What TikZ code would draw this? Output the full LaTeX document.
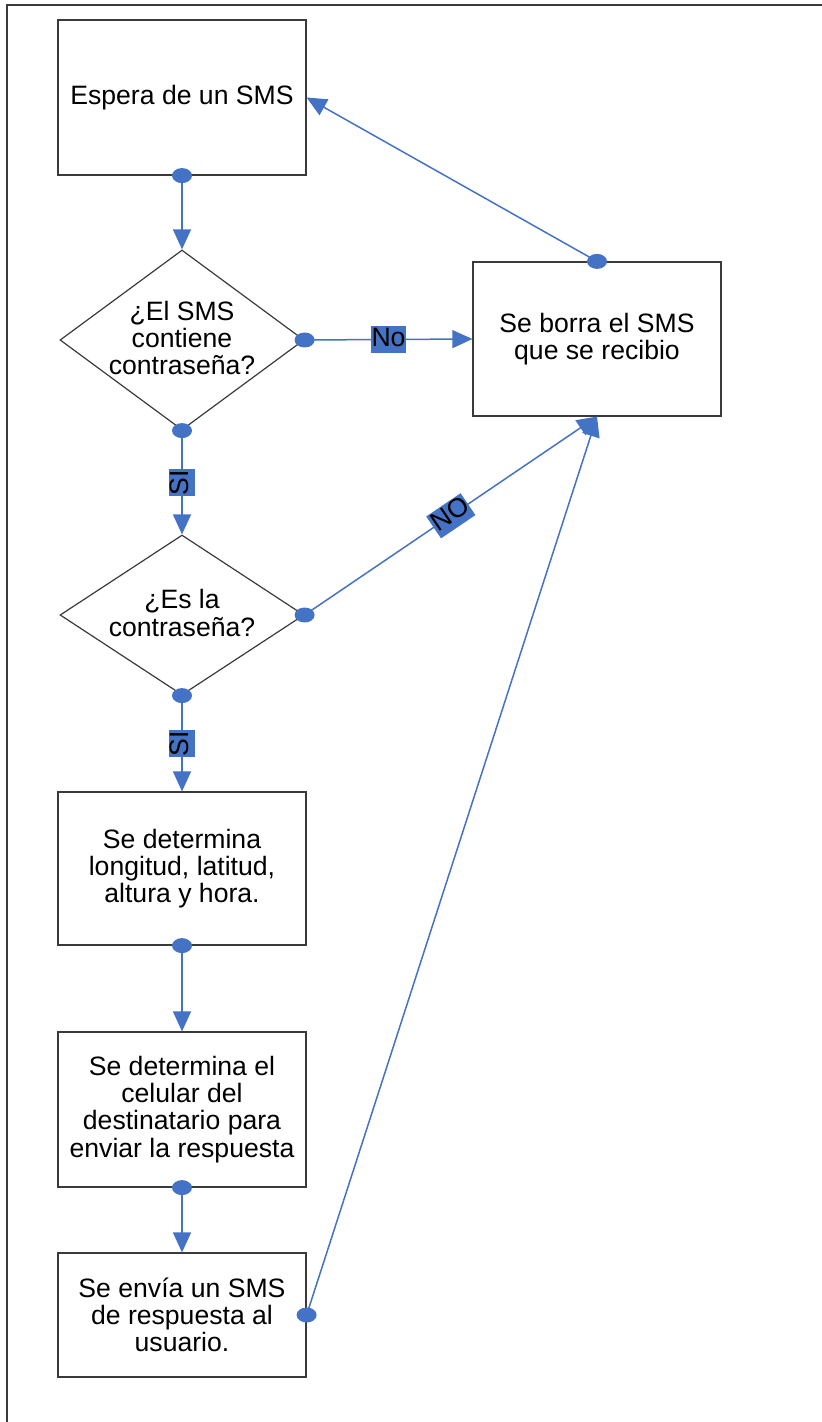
\documentclass[tikz,border=0pt]{standalone}
\usepackage{fontspec}
\setmainfont{Liberation Sans}
\usetikzlibrary{shapes.geometric,arrows.meta}
\definecolor{flowblue}{HTML}{4472C4}
\definecolor{edgegray}{HTML}{3A3A3A}
\begin{document}
\begin{tikzpicture}[x=0.5pt,y=-0.5pt,
  font=\fontsize{13.3}{13.6}\selectfont,
  stepbox/.style={draw=edgegray, line width=0.6pt, rectangle, minimum width=124pt, align=center, inner sep=0pt},
  decision/.style={draw=edgegray, line width=0.6pt, diamond, minimum width=122pt, inner sep=0pt},
  flow/.style={draw=flowblue, line width=0.75pt, -{Triangle[length=10pt,width=9pt]}},
  tag/.style={fill=flowblue, text=black, inner xsep=0.4pt, inner ysep=0pt, text height=10pt, text depth=3.2pt, midway},
  dot/.style={fill=flowblue}
]
\useasboundingbox (0,0) rectangle (822,1422);

% open frame: top and left edges
\draw[edgegray, line width=0.6pt] (822,5) -- (7,5) -- (7,1422);

% process steps
\node[stepbox, minimum height=77.5pt] (b1) at (182,97.5) {Espera de un SMS};
\node[stepbox, minimum height=77pt] (b2) at (597,339) {Se borra el SMS\\que se recibio};
\node[stepbox, minimum height=76.5pt] (b3) at (182,868.5) {Se determina\\longitud, latitud,\\altura y hora.};
\node[stepbox, minimum height=77.5pt] (b4) at (182,1109.5) {Se determina el\\celular del\\destinatario para\\enviar la respuesta};
\node[stepbox, minimum height=62pt] (b5) at (182,1315) {Se envía un SMS\\de respuesta al\\usuario.};

% decisions
\node[decision, minimum height=90pt] (d1) at (182,340) {};
\node[align=center] (q1) at (182,338) {¿El SMS\\contiene\\contraseña?};
\node[decision, minimum height=80pt] (d2) at (182,615) {};
\node[align=center] (q2) at (182,613) {¿Es la\\contraseña?};

% connectors
\draw[flow] (b1.south) -- (d1.north);
\draw[flow] (d1.east) -- node[tag] {No} (b2.west);
\draw[flow] (b2.north) -- (b1.east);
\draw[flow] (d1.south) -- node[tag, rotate=90] {SI} (d2.north);
\draw[flow] (d2.east) -- node[tag, sloped] {NO} (b2.south);
\draw[flow] (d2.south) -- node[tag, rotate=90] {SI} (b3.north);
\draw[flow] (b3.south) -- (b4.north);
\draw[flow] (b4.south) -- (b5.north);
\draw[flow] (b5.east) -- (b2.south);

% connection dots
\foreach \p in {b1.south, d1.east, b2.north, d1.south, d2.east, d2.south, b3.south, b4.south, b5.east}
  \fill[dot] (\p) ellipse [x radius=5pt, y radius=3.75pt];
\end{tikzpicture}
\end{document}
